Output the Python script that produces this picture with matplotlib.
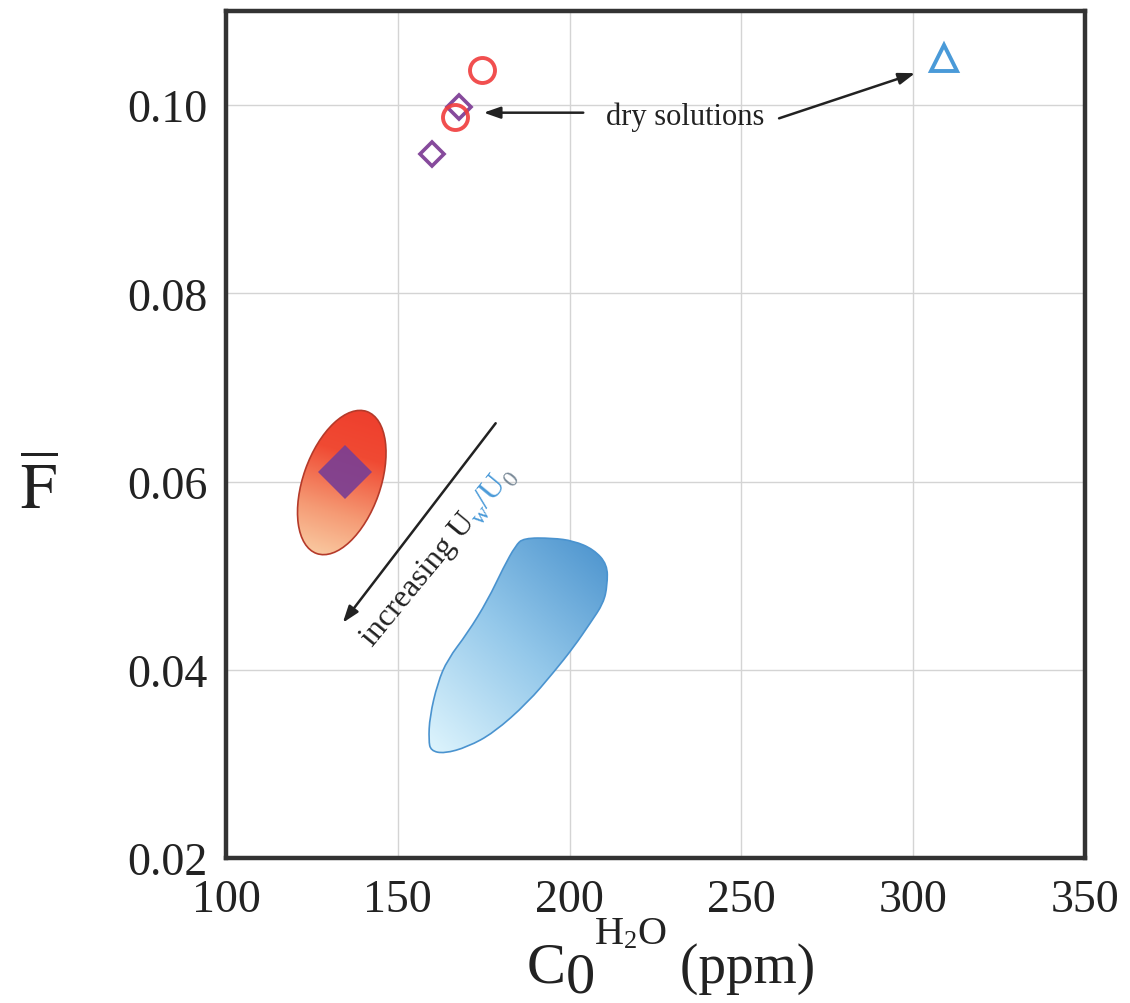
import numpy as np
import matplotlib
matplotlib.use("Agg")
import matplotlib.pyplot as plt
from matplotlib.patches import Ellipse, PathPatch
from matplotlib.path import Path
from matplotlib.transforms import Affine2D
from matplotlib.colors import LinearSegmentedColormap

# ---------------- data ----------------
xticks = [100, 150, 200, 250, 300, 350]
yticks = [0.02, 0.04, 0.06, 0.08, 0.10]
ytick_labels = ["0.02", "0.04", "0.06", "0.08", "0.10"]

circle_x = [174.4, 166.6]
circle_y = [0.1037, 0.0987]
diamond_x = [167.7, 159.9]
diamond_y = [0.0998, 0.0948]
triangle_x = [309.0]
triangle_y = [0.1050]
best_x = [134.6]
best_y = [0.0610]

# red confidence region: ellipse (centre, width in x-units, height in y-units, tilt deg on screen)
red_center = (133.7, 0.0599)
red_width = 22.5
red_height = 0.0160
red_tilt = -19.5

blue_region_x = [186.6, 195.0, 201.2, 207.0, 211.0, 211.0, 209.9, 206.1, 201.2, 195.3, 187.8, 177.9, 170.3,
                 163.5, 159.6, 159.0, 159.3, 161.6, 164.5, 170.3, 176.2, 180.8, 184.3]
blue_region_y = [0.0540, 0.0540, 0.0537, 0.0528, 0.0512, 0.0490, 0.0471, 0.0450, 0.0424, 0.0397, 0.0365, 0.0333, 0.0318,
                 0.0311, 0.0314, 0.0325, 0.0350, 0.0386, 0.0411, 0.0439, 0.0474, 0.0509, 0.0532]

# annotation anchor points (data coords)
dry_text_xy = (233.7, 0.0988)
dry_left_arrow = ((204.0, 0.0992), (175.0, 0.0992))
dry_right_arrow = ((261.0, 0.0986), (300.6, 0.1034))
uw_arrow = ((178.5, 0.0662), (134.0, 0.0450))
uw_text_xy = (142.8, 0.0425)

# ---------------- style ----------------
plt.rcParams["font.family"] = ["Liberation Serif", "DejaVu Serif"]
plt.rcParams["mathtext.fontset"] = "stix"

W, H = 1130, 1004
fig = plt.figure(figsize=(W / 100, H / 100), dpi=100)
ax = fig.add_axes([0.200, 0.1444, 0.760, 0.8436])
ax.set_xlim(100, 350)
ax.set_ylim(0.02, 0.11)
ax.set_xticks(xticks)
ax.set_yticks(yticks)
ax.set_yticklabels(ytick_labels)
ax.tick_params(length=0, labelsize=33, colors="#222222")
ax.tick_params(axis="y", pad=13)
ax.tick_params(axis="x", pad=15)
ax.grid(True, color="#d4d4d4", linewidth=1.0)
ax.set_axisbelow(True)
for s in ax.spines.values():
    s.set_linewidth(3.2)
    s.set_color("#333333")


def add_gradient(patch, bbox, colors, direction):
    x0, x1, y0, y1 = bbox
    n = 200
    u = np.linspace(0, 1, n)
    U, V = np.meshgrid(u, u)
    G = direction[0] * U + direction[1] * V
    G = (G - G.min()) / (G.max() - G.min())
    cmap = LinearSegmentedColormap.from_list("g", colors)
    im = ax.imshow(G, extent=[x0, x1, y0, y1], origin="lower", cmap=cmap,
                   aspect="auto", zorder=2, interpolation="bilinear")
    im.set_clip_path(patch)


# ---- red ellipse region ----
cdisp = ax.transData.transform(red_center)
rot = Affine2D().rotate_deg_around(cdisp[0], cdisp[1], red_tilt)
red_patch = Ellipse(red_center, red_width, red_height, facecolor="none",
                    edgecolor="#b53a2a", linewidth=1.2, zorder=3,
                    transform=ax.transData + rot)
ax.add_patch(red_patch)
add_gradient(red_patch, (red_center[0] - 15, red_center[0] + 15,
                         red_center[1] - 0.0085, red_center[1] + 0.0085),
             ["#fbd9b0", "#f59a74", "#f04a33", "#ee3b2b"], (0.2, 1.0))

# ---- blue region (smoothed closed outline through edge midpoints) ----
pts = np.column_stack([blue_region_x, blue_region_y])
n = len(pts)
mids = (pts + np.roll(pts, -1, axis=0)) / 2.0
verts = [mids[-1]]
codes = [Path.MOVETO]
for i in range(n):
    verts += [pts[i], mids[i]]
    codes += [Path.CURVE3, Path.CURVE3]
blue_patch = PathPatch(Path(verts, codes), facecolor="none", edgecolor="#4a93cf",
                       linewidth=1.2, zorder=3)
ax.add_patch(blue_patch)
add_gradient(blue_patch, (min(blue_region_x), max(blue_region_x),
                          min(blue_region_y), max(blue_region_y)),
             ["#dff5fd", "#94c8ea", "#4a92cd"], (0.8, 1.0))
ax.set_xlim(100, 350)
ax.set_ylim(0.02, 0.11)

# ---- markers ----
ax.plot(best_x, best_y, linestyle="none", marker="D", markersize=27, color="#7b3f93",
        markeredgewidth=0, alpha=0.92, zorder=4)
ax.plot(diamond_x, diamond_y, linestyle="none", marker="D", markersize=12,
        markerfacecolor="white", markeredgecolor="#864a9c", markeredgewidth=2.6, zorder=5)
ax.plot(circle_x, circle_y, linestyle="none", marker="o", markersize=18,
        markerfacecolor="none", markeredgecolor="#f03c3c", markeredgewidth=2.8, alpha=0.9, zorder=6)
ax.plot(triangle_x, triangle_y, linestyle="none", marker="^", markersize=19,
        markerfacecolor="white", markeredgecolor="#4a9ad8", markeredgewidth=2.8, zorder=5)

# ---- annotations ----
arrow_kw = dict(arrowstyle="-|>,head_length=1.0,head_width=0.35", color="#222222", lw=1.8,
                shrinkA=0, shrinkB=0)
ax.annotate("", xy=dry_left_arrow[1], xytext=dry_left_arrow[0], arrowprops=arrow_kw, zorder=7)
ax.annotate("", xy=dry_right_arrow[1], xytext=dry_right_arrow[0], arrowprops=arrow_kw, zorder=7)
ax.annotate("", xy=uw_arrow[1], xytext=uw_arrow[0], arrowprops=arrow_kw, zorder=7)
ax.text(dry_text_xy[0], dry_text_xy[1], "dry solutions", fontsize=22, ha="center", va="center",
        color="#222222", zorder=7)

fig.canvas.draw()
renderer = fig.canvas.get_renderer()


def text_width(s, fs):
    tmp = fig.text(0, 0, s, fontsize=fs)
    w = tmp.get_window_extent(renderer).width
    tmp.remove()
    return w


# rotated multi-colour text "increasing U_w/U_0"
theta = np.deg2rad(50.5)
dvec = np.array([np.cos(theta), np.sin(theta)])
nvec = np.array([np.sin(theta), -np.cos(theta)])
pieces = [("increasing U", "#222222", 23, 0.0),
          ("w", "#4a9ad8", 17, 6.0),
          ("/U", "#4a9ad8", 23, 0.0),
          ("0", "#7a8a98", 17, 6.0)]
pos = np.array(ax.transData.transform(uw_text_xy), dtype=float)
inv = ax.transData.inverted()
for s, c, fs, drop in pieces:
    w = text_width(s, fs)
    p = pos + nvec * drop
    xd, yd = inv.transform(p)
    ax.text(xd, yd, s, fontsize=fs, color=c, rotation=np.rad2deg(theta),
            rotation_mode="anchor", ha="left", va="baseline", zorder=7)
    pos = pos + dvec * w

# ---- x axis label: C0^{H2O} (ppm), built from pieces (pixel layout) ----
xl_pieces = [("C", 42, 0), ("0", 42, -10), ("H", 29, 39), ("2", 19, 35),
             ("O", 29, 39), (" (ppm)", 40, 0)]
px = 527.0
base = H - 983.0
for s, fs, dy in xl_pieces:
    fig.text(px / W, (base + dy) / H, s, fontsize=fs, color="#222222",
             ha="left", va="baseline")
    px += text_width(s, fs)

# ---- y axis label ----
ax.set_ylabel(r"$\overline{\mathrm{F}}$", fontsize=46, rotation=0, color="#222222",
              va="center", ha="center")
ax.yaxis.set_label_coords(-0.218, 0.433)

fig.savefig("out.png", dpi=100)
